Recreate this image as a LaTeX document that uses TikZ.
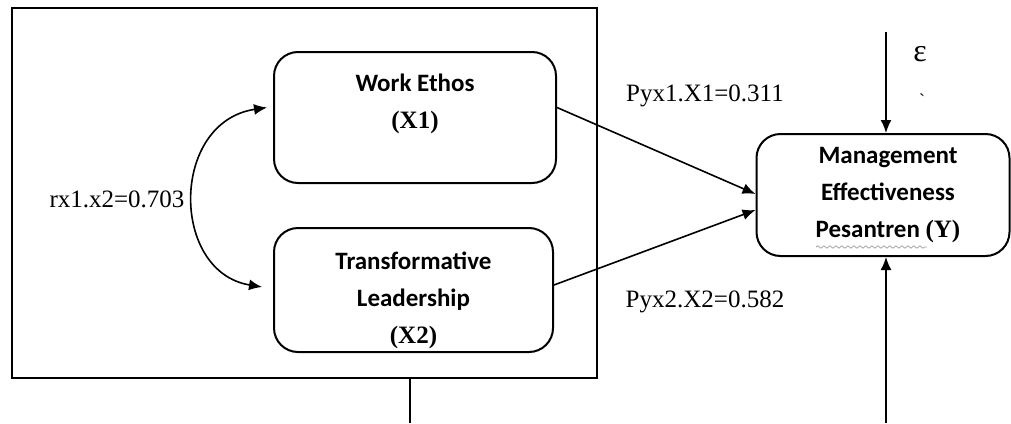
\documentclass[tikz,border=0pt]{standalone}
\usepackage{fontspec}
\setmainfont{Liberation Serif}
\newfontfamily\boxfont{Carlito}
\usepackage{tikz}
\usetikzlibrary{arrows.meta,calc,decorations.pathmorphing}

\tikzset{
  varbox/.style={draw, line width=1pt, rounded corners=12pt},
  boxtxt/.style={align=center, inner sep=0pt, font=\boxfont\bfseries\fontsize{12.5}{18.5}\selectfont},
  coef/.style={inner sep=1pt, font=\fontsize{12.5}{15}\selectfont},
  path/.style={line width=0.8pt, -{Latex[length=6.5pt,width=5.5pt]}}
}

\begin{document}
\begin{tikzpicture}[x=0.5pt, y=-0.5pt]
\useasboundingbox (0,0) rectangle (1011,423);

% frame round the two predictors
\node[draw, line width=1pt, minimum width=292.5pt, minimum height=185pt, inner sep=0pt] (frame) at (304.5,193) {};

% variable boxes
\node[varbox, minimum width=141pt, minimum height=65.5pt] (x1) at (415,117.5) {};
\node[varbox, minimum width=139.5pt, minimum height=62pt] (x2) at (413.5,290) {};
\node[varbox, minimum width=126.5pt, minimum height=61pt] (y) at (883,195) {};

\node[boxtxt] (x1t) at ([yshift=7pt]x1.center) {Work Ethos\\{\rmfamily (X1)}};
\node[boxtxt] (x2t) at ([yshift=-5pt]x2.center) {Transformative\\Leadership\\{\rmfamily (X2)}};
\node[boxtxt] (yt) at ([xshift=2.5pt]y.center) {Management\\Effectiveness\\Pesantren {\rmfamily (Y)}};
\draw[gray!70, line width=0.4pt, decorate, decoration={snake, amplitude=0.6pt, segment length=3pt}] (816,247) -- (927,247);

% coefficients
\node[coef] (p1) at (705,96) {Pyx1.X1=0.311};
\node[coef] (p2) at (705,302) {Pyx2.X2=0.582};
\node[coef] (r12) at (117,199) {rx1.x2=0.703};
\node[coef, font=\fontsize{16}{18}\selectfont] (eps) at (920,54) {ε};
\node[coef, font=\small] (tick) at (922,100) {\textasciigrave};

% paths into Y
\draw[path] ([yshift=5pt]x1.east) -- ([yshift=0.5pt]y.west);
\draw[path] ([yshift=2.5pt]x2.east) -- ([yshift=-7.5pt]y.west);

% correlation between X1 and X2
\coordinate (c1) at ([xshift=-3pt,yshift=5pt]x1.west);
\coordinate (c2) at ([xshift=-5.5pt,yshift=1.5pt]x2.west);
\draw[line width=0.8pt, {Latex[length=6.5pt,width=5.5pt]}-{Latex[length=6.5pt,width=5.5pt]}] (c1) .. controls (170,122) and (170,272) .. (c2);

% error term and outer lines
\coordinate (etop) at (886,32);
\coordinate (ebot) at (886,423);
\coordinate (ftail) at (410,423);
\draw[path] (etop) -- (etop |- y.north);
\draw[path] (ebot) -- (ebot |- y.south);
\draw[line width=0.8pt] (ftail) -- (ftail |- frame.south);
\end{tikzpicture}
\end{document}
